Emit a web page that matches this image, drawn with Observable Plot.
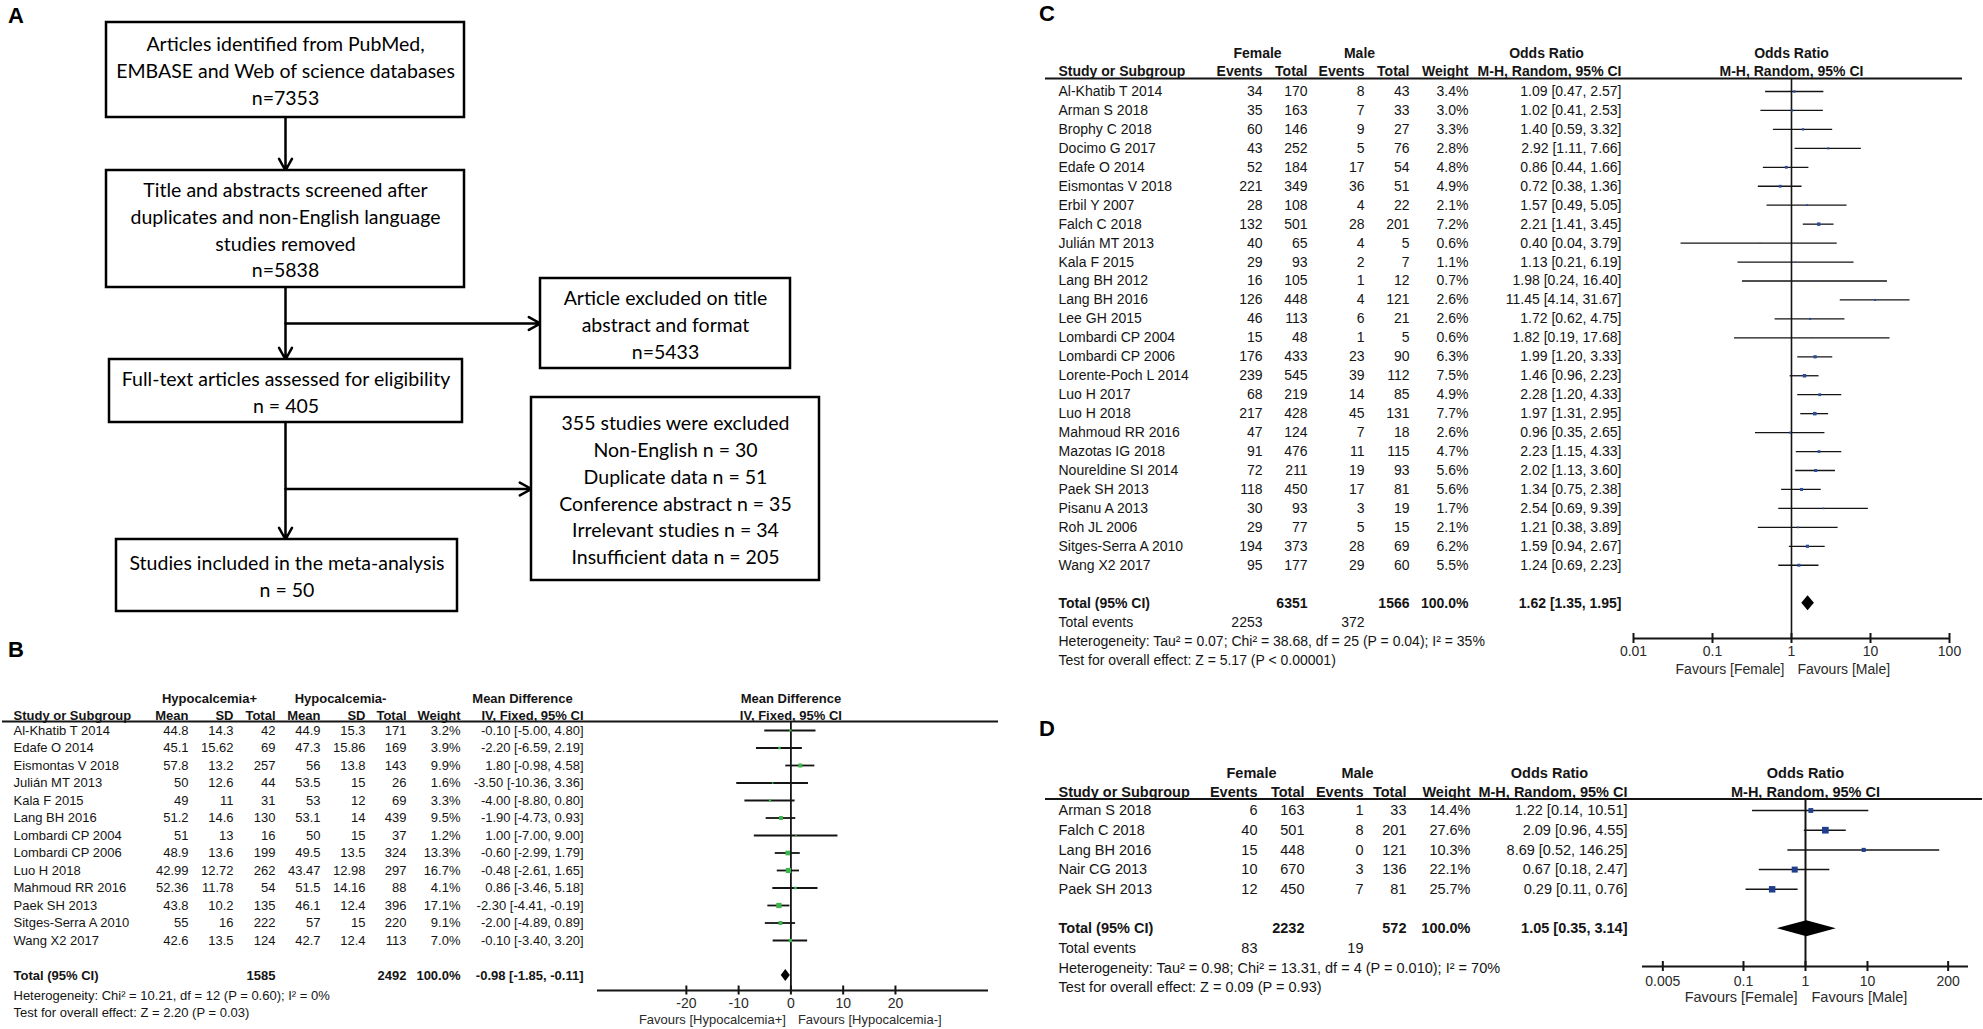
<!DOCTYPE html>
<html>
<head>
<meta charset="utf-8">
<title>Flow diagram and forest plots</title>
<script src="https://cdn.jsdelivr.net/npm/d3@7"></script>
<script src="https://cdn.jsdelivr.net/npm/@observablehq/plot@0.6"></script>
<style>
  html, body { margin: 0; padding: 0; background: #fff; }
  #page { position: relative; width: 1983px; height: 1029px; overflow: hidden; background: #fff; }
  .piece { position: absolute; }
  .piece svg { overflow: visible; display: block; }
  .panel-label { position: absolute; font-family: 'Liberation Sans', Arial, sans-serif; font-weight: bold; font-size: 22px; line-height: 1; color: #000; }
</style>
</head>
<body>
<div id="page"></div>
<script>
// ======================= DATA =======================
// ---- Panel A: study selection flow ----
const flowSteps = ["identified", "screened", "excludedTitle", "fullText", "excludedFull", "included"];
const flowLines = [
  ["Articles identified from PubMed,", "EMBASE and Web of science databases", "n=7353"],
  ["Title and abstracts screened after", "duplicates and non-English language", "studies removed", "n=5838"],
  ["Article excluded on title", "abstract and format", "n=5433"],
  ["Full-text articles assessed for eligibility", "n = 405"],
  ["355 studies were excluded", "Non-English n = 30", "Duplicate data n = 51", "Conference abstract n = 35", "Irrelevant studies n = 34", "Insufficient data n = 205"],
  ["Studies included in the meta-analysis", "n = 50"]
];
const flowDown = [["identified", "screened"], ["screened", "fullText"], ["fullText", "included"]];
const flowSide = [["screened", "excludedTitle"], ["fullText", "excludedFull"]];

// ---- Panel B: age, Hypocalcemia+ vs Hypocalcemia- ----
const studiesB = ["Al-Khatib T 2014", "Edafe O 2014", "Eismontas V 2018", "Julián MT 2013", "Kala F 2015", "Lang BH 2016", "Lombardi CP 2004", "Lombardi CP 2006", "Luo H 2018", "Mahmoud RR 2016", "Paek SH 2013", "Sitges-Serra A 2010", "Wang X2 2017"];
const plusMeanB  = [44.8, 45.1, 57.8, 50, 49, 51.2, 51, 48.9, 42.99, 52.36, 43.8, 55, 42.6];
const plusSdB    = [14.3, 15.62, 13.2, 12.6, 11, 14.6, 13, 13.6, 12.72, 11.78, 10.2, 16, 13.5];
const plusNB     = [42, 69, 257, 44, 31, 130, 16, 199, 262, 54, 135, 222, 124];
const minusMeanB = [44.9, 47.3, 56, 53.5, 53, 53.1, 50, 49.5, 43.47, 51.5, 46.1, 57, 42.7];
const minusSdB   = [15.3, 15.86, 13.8, 15, 12, 14, 15, 13.5, 12.98, 14.16, 12.4, 15, 12.4];
const minusNB    = [171, 169, 143, 26, 69, 439, 37, 324, 297, 88, 396, 220, 113];
const weightB    = [3.2, 3.9, 9.9, 1.6, 3.3, 9.5, 1.2, 13.3, 16.7, 4.1, 17.1, 9.1, 7.0];
const mdB        = [-0.10, -2.20, 1.80, -3.50, -4.00, -1.90, 1.00, -0.60, -0.48, 0.86, -2.30, -2.00, -0.10];
const mdLoB      = [-5.00, -6.59, -0.98, -10.36, -8.80, -4.73, -7.00, -2.99, -2.61, -3.46, -4.41, -4.89, -3.40];
const mdHiB      = [4.80, 2.19, 4.58, 3.36, 0.80, 0.93, 9.00, 1.79, 1.65, 5.18, -0.19, 0.89, 3.20];
const totalsB    = [1585, 2492];
const pooledB    = [-0.98, -1.85, -0.11];
const statsB     = ["Heterogeneity: Chi² = 10.21, df = 12 (P = 0.60); I² = 0%", "Test for overall effect: Z = 2.20 (P = 0.03)"];
const ticksB     = [-20, -10, 0, 10, 20];
const tickLabelsB = ["-20", "-10", "0", "10", "20"];
const favoursB   = ["Favours [Hypocalcemia+]", "Favours [Hypocalcemia-]"];

// ---- Panel C: sex (all) ----
const studiesC = ["Al-Khatib T 2014", "Arman S 2018", "Brophy C 2018", "Docimo G 2017", "Edafe O 2014", "Eismontas V 2018", "Erbil Y 2007", "Falch C 2018", "Julián MT 2013", "Kala F 2015", "Lang BH 2012", "Lang BH 2016", "Lee GH 2015", "Lombardi CP 2004", "Lombardi CP 2006", "Lorente-Poch L 2014", "Luo H 2017", "Luo H 2018", "Mahmoud RR 2016", "Mazotas IG 2018", "Noureldine SI 2014", "Paek SH 2013", "Pisanu A 2013", "Roh JL 2006", "Sitges-Serra A 2010", "Wang X2 2017"];
const femEventsC  = [34, 35, 60, 43, 52, 221, 28, 132, 40, 29, 16, 126, 46, 15, 176, 239, 68, 217, 47, 91, 72, 118, 30, 29, 194, 95];
const femTotalC   = [170, 163, 146, 252, 184, 349, 108, 501, 65, 93, 105, 448, 113, 48, 433, 545, 219, 428, 124, 476, 211, 450, 93, 77, 373, 177];
const maleEventsC = [8, 7, 9, 5, 17, 36, 4, 28, 4, 2, 1, 4, 6, 1, 23, 39, 14, 45, 7, 11, 19, 17, 3, 5, 28, 29];
const maleTotalC  = [43, 33, 27, 76, 54, 51, 22, 201, 5, 7, 12, 121, 21, 5, 90, 112, 85, 131, 18, 115, 93, 81, 19, 15, 69, 60];
const weightC     = [3.4, 3.0, 3.3, 2.8, 4.8, 4.9, 2.1, 7.2, 0.6, 1.1, 0.7, 2.6, 2.6, 0.6, 6.3, 7.5, 4.9, 7.7, 2.6, 4.7, 5.6, 5.6, 1.7, 2.1, 6.2, 5.5];
const orC         = [1.09, 1.02, 1.40, 2.92, 0.86, 0.72, 1.57, 2.21, 0.40, 1.13, 1.98, 11.45, 1.72, 1.82, 1.99, 1.46, 2.28, 1.97, 0.96, 2.23, 2.02, 1.34, 2.54, 1.21, 1.59, 1.24];
const orLoC       = [0.47, 0.41, 0.59, 1.11, 0.44, 0.38, 0.49, 1.41, 0.04, 0.21, 0.24, 4.14, 0.62, 0.19, 1.20, 0.96, 1.20, 1.31, 0.35, 1.15, 1.13, 0.75, 0.69, 0.38, 0.94, 0.69];
const orHiC       = [2.57, 2.53, 3.32, 7.66, 1.66, 1.36, 5.05, 3.45, 3.79, 6.19, 16.40, 31.67, 4.75, 17.68, 3.33, 2.23, 4.33, 2.95, 2.65, 4.33, 3.60, 2.38, 9.39, 3.89, 2.67, 2.23];
const totalsC     = [6351, 1566];
const eventsC     = [2253, 372];
const pooledC     = [1.62, 1.35, 1.95];
const statsC      = ["Heterogeneity: Tau² = 0.07; Chi² = 38.68, df = 25 (P = 0.04); I² = 35%", "Test for overall effect: Z = 5.17 (P < 0.00001)"];
const ticksC      = [0.01, 0.1, 1, 10, 100];
const tickLabelsC = ["0.01", "0.1", "1", "10", "100"];
const favoursC    = ["Favours [Female]", "Favours [Male]"];

// ---- Panel D: sex (subset) ----
const studiesD    = ["Arman S 2018", "Falch C 2018", "Lang BH 2016", "Nair CG 2013", "Paek SH 2013"];
const femEventsD  = [6, 40, 15, 10, 12];
const femTotalD   = [163, 501, 448, 670, 450];
const maleEventsD = [1, 8, 0, 3, 7];
const maleTotalD  = [33, 201, 121, 136, 81];
const weightD     = [14.4, 27.6, 10.3, 22.1, 25.7];
const orD         = [1.22, 2.09, 8.69, 0.67, 0.29];
const orLoD       = [0.14, 0.96, 0.52, 0.18, 0.11];
const orHiD       = [10.51, 4.55, 146.25, 2.47, 0.76];
const totalsD     = [2232, 572];
const eventsD     = [83, 19];
const pooledD     = [1.05, 0.35, 3.14];
const statsD      = ["Heterogeneity: Tau² = 0.98; Chi² = 13.31, df = 4 (P = 0.010); I² = 70%", "Test for overall effect: Z = 0.09 (P = 0.93)"];
const ticksD      = [0.005, 0.1, 1, 10, 200];
const tickLabelsD = ["0.005", "0.1", "1", "10", "200"];
const favoursD    = ["Favours [Female]", "Favours [Male]"];

// ======================= LAYOUT / STYLE =======================
const FONT = "'Liberation Sans', Arial, Helvetica, sans-serif";
const FLOW_FONT = "Lato, 'Open Sans', sans-serif";
const INK = "#141414";
const page = document.getElementById("page");

function place(node, left, top) {
  const div = document.createElement("div");
  div.className = "piece";
  div.style.left = left + "px";
  div.style.top = top + "px";
  div.appendChild(node);
  page.appendChild(div);
}
function label(text, left, top) {
  const d = document.createElement("div");
  d.className = "panel-label";
  d.textContent = text;
  d.style.left = left + "px";
  d.style.top = top + "px";
  page.appendChild(d);
}
const f2 = v => v.toFixed(2);
const ciText = (e, l, h) => `${f2(e)} [${f2(l)}, ${f2(h)}]`;
const pct = v => v.toFixed(1) + "%";

// ======================= PANEL A =======================
const flowLayout = {
  identified:    {x1: 106, x2: 464, y1: 22,  y2: 117},
  screened:      {x1: 106, x2: 464, y1: 170, y2: 287},
  excludedTitle: {x1: 540, x2: 790, y1: 278, y2: 368},
  fullText:      {x1: 109, x2: 462, y1: 359, y2: 422},
  excludedFull:  {x1: 531, x2: 819, y1: 397, y2: 580},
  included:      {x1: 116, x2: 457, y1: 539, y2: 611}
};
const flowMainX = 285, flowLineStep = 26.8;
{
  const boxes = flowSteps.map((id, k) => ({id, ...flowLayout[id], lines: flowLines[k]}));
  const lines = boxes.flatMap(b => b.lines.map((t, i) => ({
    text: t,
    x: (b.x1 + b.x2) / 2,
    y: (b.y1 + b.y2) / 2 + 2 + (i - (b.lines.length - 1) / 2) * flowLineStep
  })));
  const arrows = [
    ...flowDown.map(([s, t]) => ({x1: flowMainX, y1: flowLayout[s].y2, x2: flowMainX, y2: flowLayout[t].y1})),
    ...flowSide.map(([s, t]) => {
      const b = flowLayout[t], cy = (b.y1 + b.y2) / 2;
      return {x1: flowMainX, y1: cy, x2: b.x1, y2: cy};
    })
  ];
  const W = 830, H = 625;
  const plotA = Plot.plot({
    width: W, height: H, margin: 0,
    x: {domain: [0, W], range: [0, W], axis: null},
    y: {domain: [0, H], range: [0, H], axis: null},
    style: {background: "transparent", overflow: "visible"},
    marks: [
      Plot.arrow(arrows, {x1: "x1", y1: "y1", x2: "x2", y2: "y2", stroke: "#000", strokeWidth: 2.5, headLength: 8, headAngle: 58}),
      Plot.rect(boxes, {x1: "x1", x2: "x2", y1: "y1", y2: "y2", fill: "white", stroke: "#000", strokeWidth: 2.5}),
      Plot.text(lines, {x: "x", y: "y", text: "text", fontSize: 19.5, fontFamily: FLOW_FONT, fill: "#000"})
    ]
  });
  place(plotA, 0, 0);
}

// ======================= FOREST PANELS =======================
function forestPanel(p) {
  const rowOf = y => (y - p.row0) / p.step;
  const yScale = {domain: [rowOf(p.top), rowOf(p.top + p.height)], range: [0, p.height], axis: null};
  const tableW = p.forestLeft - p.left;

  // ---- table (text columns) ----
  const items = p.items.map(d => ({...d, x: d.x - p.left, y: d.row !== undefined ? d.row : rowOf(d.py)}));
  const textMarks = [];
  for (const [anchor, g] of d3.groups(items, d => d.anchor)) {
    for (const [bold, arr] of d3.groups(g, d => !!d.bold)) {
      textMarks.push(Plot.text(arr, {
        x: "x", y: "y", text: "text", textAnchor: anchor,
        fontWeight: bold ? "bold" : "normal", fontSize: p.fontSize, fontFamily: FONT, fill: INK
      }));
    }
  }
  const table = Plot.plot({
    width: tableW, height: p.height, margin: 0,
    x: {domain: [0, tableW], range: [0, tableW], axis: null},
    y: yScale,
    style: {background: "transparent", overflow: "visible", fontFamily: FONT},
    marks: [
      Plot.ruleY([rowOf(p.ruleY)], {x1: p.ruleX1 - p.left, x2: tableW, stroke: INK, strokeWidth: 2}),
      ...textMarks
    ]
  });
  place(table, p.left, p.top);

  // ---- forest graphic ----
  const fw = p.forestWidth;
  const studies = p.est.map((e, i) => ({i, est: e, lo: p.lo[i], hi: p.hi[i], w: p.weight[i]}));
  const [pe, pl, ph] = p.pooled;
  const tr = p.totalRow, dh = p.diamondHalf / p.step;
  const diamond = [{x: pl, y1: tr, y2: tr}, {x: pe, y1: tr - dh, y2: tr + dh}, {x: ph, y1: tr, y2: tr}];
  const axisRow = rowOf(p.axisY), th = p.tickHalf / p.step;
  const ticks = p.ticks.map((t, k) => ({t, label: p.tickLabels[k]}));
  const plotRight = fw - p.fmr;
  const forest = Plot.plot({
    width: fw, height: p.height, marginLeft: p.fml, marginRight: p.fmr, marginTop: 0, marginBottom: 0,
    x: {type: p.xType, domain: p.xDomain, axis: null},
    y: yScale,
    r: {type: "sqrt", domain: [0, 100], range: [0, 7.2]},
    style: {background: "transparent", overflow: "visible", fontFamily: FONT},
    marks: [
      Plot.ruleY([rowOf(p.ruleY)], {stroke: INK, strokeWidth: 2, insetLeft: -p.fml, insetRight: -((p.ruleX2 - p.forestLeft) - plotRight)}),
      Plot.ruleX([p.nullValue], {y1: rowOf(p.ruleY), y2: axisRow, stroke: INK, strokeWidth: p.nullWidth}),
      Plot.ruleY(studies, {x1: "lo", x2: "hi", y: "i", stroke: INK, strokeWidth: p.ciWidth}),
      Plot.dot(studies, {x: "est", y: "i", r: "w", symbol: "square", fill: p.color}),
      Plot.areaY(diamond, {x: "x", y1: "y1", y2: "y2", fill: "#000", curve: "linear"}),
      Plot.ruleY([axisRow], {x1: p.xDomain[0], x2: p.xDomain[1], stroke: INK, strokeWidth: 2}),
      Plot.ruleX(ticks, {x: "t", y1: axisRow - th, y2: axisRow + th, stroke: INK, strokeWidth: 2}),
      Plot.text(ticks, {x: "t", y: rowOf(p.tickLabelY), text: "label", fontSize: p.tickFontSize, fontFamily: FONT, fill: "#2a2a2a"}),
      Plot.text([p.favours[0]], {x: p.nullValue, y: rowOf(p.favY), text: d => d, textAnchor: "end", dx: -p.favGapL, fontSize: p.fontSize, fontFamily: FONT, fill: "#2a2a2a"}),
      Plot.text([p.favours[1]], {x: p.nullValue, y: rowOf(p.favY), text: d => d, textAnchor: "start", dx: p.favGapR, fontSize: p.fontSize, fontFamily: FONT, fill: "#2a2a2a"}),
      Plot.text([p.head[0]], {x: p.nullValue, y: rowOf(p.head1Y), text: d => d, fontWeight: "bold", fontSize: p.fontSize, fontFamily: FONT, fill: INK}),
      Plot.text([p.head[1]], {x: p.nullValue, y: rowOf(p.head2Y), text: d => d, fontWeight: "bold", fontSize: p.fontSize, fontFamily: FONT, fill: INK})
    ]
  });
  place(forest, p.forestLeft, p.top);
}

// helper to turn rows of cell strings into positioned text items
function cells(cols, rowValues, row, bold, py) {
  return rowValues.map((t, k) => t === "" || t == null ? null :
    ({text: String(t), x: cols[k].x, anchor: cols[k].a, bold, row, py})).filter(Boolean);
}

// ---------------- Panel B ----------------
{
  const cols = [{x: 13, a: "start"}, {x: 188, a: "end"}, {x: 233, a: "end"}, {x: 275, a: "end"}, {x: 320, a: "end"}, {x: 365, a: "end"}, {x: 406, a: "end"}, {x: 460, a: "end"}, {x: 583, a: "end"}];
  const L = {head1Y: 698, head2Y: 715, hetY: 995, testY: 1012};
  const items = [
    {text: "Hypocalcemia+", x: 209, anchor: "middle", bold: true, py: L.head1Y},
    {text: "Hypocalcemia-", x: 340, anchor: "middle", bold: true, py: L.head1Y},
    {text: "Mean Difference", x: 522, anchor: "middle", bold: true, py: L.head1Y},
    ...cells(cols, ["Study or Subgroup", "Mean", "SD", "Total", "Mean", "SD", "Total", "Weight", "IV, Fixed, 95% CI"], undefined, true, L.head2Y),
    ...studiesB.flatMap((s, i) => cells(cols, [s, plusMeanB[i], plusSdB[i], plusNB[i], minusMeanB[i], minusSdB[i], minusNB[i], pct(weightB[i]), ciText(mdB[i], mdLoB[i], mdHiB[i])], i, false)),
    ...cells(cols, ["Total (95% CI)", "", "", totalsB[0], "", "", totalsB[1], "100.0%", ciText(...pooledB)], studiesB.length + 1, true),
    {text: statsB[0], x: 13, anchor: "start", bold: false, py: L.hetY},
    {text: statsB[1], x: 13, anchor: "start", bold: false, py: L.testY}
  ];
  forestPanel({
    left: 0, top: 680, height: 349, forestLeft: 590, forestWidth: 410, fml: 7, fmr: 12,
    row0: 730, step: 17.5, fontSize: 13, tickFontSize: 14,
    head1Y: L.head1Y, head2Y: L.head2Y, ruleY: 721, ruleX1: 2, ruleX2: 998,
    axisY: 990, tickLabelY: 1003, favY: 1019, tickHalf: 4.5, favGapL: 5, favGapR: 7,
    xType: "linear", xDomain: [-37, 37.8], nullValue: 0,
    est: mdB, lo: mdLoB, hi: mdHiB, weight: weightB, pooled: pooledB, totalRow: studiesB.length + 1,
    diamondHalf: 6, color: "#3cb54a", ciWidth: 1.8, nullWidth: 1.8,
    ticks: ticksB, tickLabels: tickLabelsB, favours: favoursB,
    head: ["Mean Difference", "IV, Fixed, 95% CI"], items
  });
}

// ---------------- Panel C ----------------
{
  const cols = [{x: 1058, a: "start"}, {x: 1262, a: "end"}, {x: 1307, a: "end"}, {x: 1364, a: "end"}, {x: 1409, a: "end"}, {x: 1468, a: "end"}, {x: 1621, a: "end"}];
  const L = {head1Y: 53, head2Y: 71, eventsY: 622, hetY: 641, testY: 660};
  const n = studiesC.length;
  const items = [
    {text: "Female", x: 1257, anchor: "middle", bold: true, py: L.head1Y},
    {text: "Male", x: 1359, anchor: "middle", bold: true, py: L.head1Y},
    {text: "Odds Ratio", x: 1546, anchor: "middle", bold: true, py: L.head1Y},
    ...cells(cols, ["Study or Subgroup", "Events", "Total", "Events", "Total", "Weight", "M-H, Random, 95% CI"], undefined, true, L.head2Y),
    ...studiesC.flatMap((s, i) => cells(cols, [s, femEventsC[i], femTotalC[i], maleEventsC[i], maleTotalC[i], pct(weightC[i]), ciText(orC[i], orLoC[i], orHiC[i])], i, false)),
    ...cells(cols, ["Total (95% CI)", "", totalsC[0], "", totalsC[1], "100.0%", ciText(...pooledC)], n + 1, true),
    ...cells(cols, ["Total events", eventsC[0], "", eventsC[1], "", "", ""], undefined, false, L.eventsY),
    {text: statsC[0], x: 1058, anchor: "start", bold: false, py: L.hetY},
    {text: statsC[1], x: 1058, anchor: "start", bold: false, py: L.testY}
  ];
  forestPanel({
    left: 1040, top: 30, height: 660, forestLeft: 1625, forestWidth: 358, fml: 8, fmr: 34,
    row0: 91, step: 18.95, fontSize: 14, tickFontSize: 14,
    head1Y: L.head1Y, head2Y: L.head2Y, ruleY: 78, ruleX1: 1045, ruleX2: 1962,
    axisY: 638, tickLabelY: 651, favY: 669, tickHalf: 5, favGapL: 7, favGapR: 6,
    xType: "log", xDomain: [0.01, 100], nullValue: 1,
    est: orC, lo: orLoC, hi: orHiC, weight: weightC, pooled: pooledC, totalRow: n + 1,
    diamondHalf: 7.5, color: "#2c4c9c", ciWidth: 1.3, nullWidth: 1.6,
    ticks: ticksC, tickLabels: tickLabelsC, favours: favoursC,
    head: ["Odds Ratio", "M-H, Random, 95% CI"], items
  });
}

// ---------------- Panel D ----------------
{
  const cols = [{x: 1058, a: "start"}, {x: 1257, a: "end"}, {x: 1304, a: "end"}, {x: 1363, a: "end"}, {x: 1406, a: "end"}, {x: 1470, a: "end"}, {x: 1627, a: "end"}];
  const L = {head1Y: 772.5, head2Y: 792, eventsY: 948, hetY: 967.5, testY: 987};
  const n = studiesD.length;
  const items = [
    {text: "Female", x: 1251, anchor: "middle", bold: true, py: L.head1Y},
    {text: "Male", x: 1357, anchor: "middle", bold: true, py: L.head1Y},
    {text: "Odds Ratio", x: 1549, anchor: "middle", bold: true, py: L.head1Y},
    ...cells(cols, ["Study or Subgroup", "Events", "Total", "Events", "Total", "Weight", "M-H, Random, 95% CI"], undefined, true, L.head2Y),
    ...studiesD.flatMap((s, i) => cells(cols, [s, femEventsD[i], femTotalD[i], maleEventsD[i], maleTotalD[i], pct(weightD[i]), ciText(orD[i], orLoD[i], orHiD[i])], i, false)),
    ...cells(cols, ["Total (95% CI)", "", totalsD[0], "", totalsD[1], "100.0%", ciText(...pooledD)], n + 1, true),
    ...cells(cols, ["Total events", eventsD[0], "", eventsD[1], "", "", ""], undefined, false, L.eventsY),
    {text: statsD[0], x: 1058, anchor: "start", bold: false, py: L.hetY},
    {text: statsD[1], x: 1058, anchor: "start", bold: false, py: L.testY}
  ];
  forestPanel({
    left: 1040, top: 755, height: 274, forestLeft: 1630, forestWidth: 353, fml: 12, fmr: 15,
    row0: 810, step: 19.7, fontSize: 14.5, tickFontSize: 14,
    head1Y: L.head1Y, head2Y: L.head2Y, ruleY: 798.5, ruleX1: 1045, ruleX2: 1982,
    axisY: 966, tickLabelY: 981, favY: 997, tickHalf: 5, favGapL: 8, favGapR: 6,
    xType: "log", xDomain: [0.00235, 426], nullValue: 1,
    est: orD, lo: orLoD, hi: orHiD, weight: weightD, pooled: pooledD, totalRow: n + 1,
    diamondHalf: 8, color: "#1f3e8e", ciWidth: 1.5, nullWidth: 2,
    ticks: ticksD, tickLabels: tickLabelsD, favours: favoursD,
    head: ["Odds Ratio", "M-H, Random, 95% CI"], items
  });
}

// ---- panel letters ----
label("A", 8, 5);
label("B", 8, 639);
label("C", 1039, 3);
label("D", 1039, 718);
</script>
</body>
</html>
